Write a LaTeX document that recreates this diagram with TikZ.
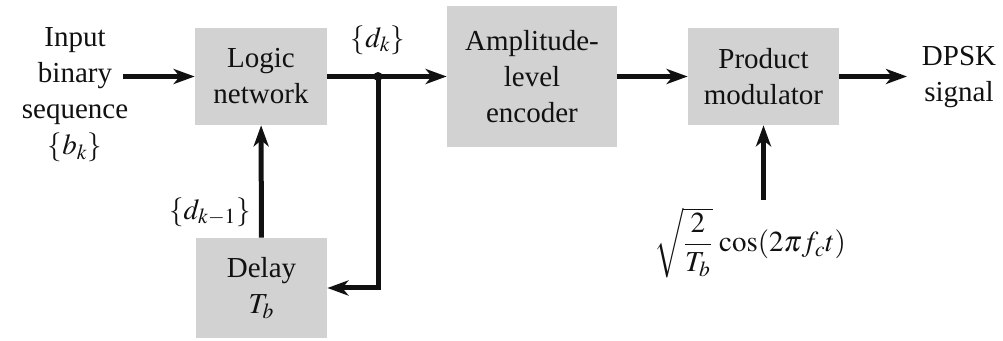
\documentclass[tikz,border=0pt]{standalone}
\usepackage{amsmath}
\usepackage{mathptmx}
\usepackage[no-math]{fontspec}
\setmainfont{Liberation Serif}
\newfontfamily\diagfont{Liberation Serif}
\usetikzlibrary{arrows.meta,positioning}
\definecolor{boxc}{HTML}{D2D2D2}
\definecolor{linec}{HTML}{111111}

\begin{document}
\begin{tikzpicture}[font=\diagfont\fontsize{16.5}{20.5}\selectfont, >={Stealth[length=4.2mm,width=3mm,inset=1.2mm]}]
\useasboundingbox (0,0) rectangle (20.06,-6.82);
\fill[white] (0,0) rectangle (20.06,-6.82);
\tikzset{block/.style={fill=boxc, draw=none, align=center, inner sep=0pt, text=linec},
  sig/.style={->, line width=1mm, linec},
  lbl/.style={align=center, text=linec, inner sep=0pt}}
% blocks
\node[block,minimum width=2.64cm,minimum height=1.94cm] (logic) at (5.22,-1.53) {Logic\\network};
\node[block,minimum width=2.62cm,minimum height=2.0cm] (delay) at (5.23,-5.76) {Delay\\$T_b$};
\node[block,minimum width=3.4cm,minimum height=2.82cm] (amp) at (10.64,-1.53) {Amplitude-\\level\\encoder};
\node[block,minimum width=3.02cm,minimum height=1.94cm] (prod) at (15.27,-1.53) {Product\\modulator};
% texts
\node[lbl] (inp) at (1.5,-1.9) {Input\\binary\\sequence\\$\{b_k\}$};
\node[lbl] (out) at (19.18,-1.54) {DPSK\\signal};
\node[lbl] (dk) at (7.56,-0.8) {$\{d_k\}$};
\node[lbl] (dk1) at (4.2,-4.24) {$\{d_{k-1}\}$};
\node[lbl] (carr) at (15.0,-4.86) {$\sqrt{\dfrac{2}{T_b}}\,\cos(2\pi f_c t)$};
\coordinate (inpend) at (2.46,-1.53);
\coordinate (outend) at (18.14,-1.53);
\coordinate (carrtop) at (15.27,-4.0);
\coordinate (junc) at (7.56,-1.53);
\coordinate (corner) at (7.56,-5.76);
% connectors
\draw[sig] (inpend)--(logic.west);
\draw[sig] (logic.east)--(amp.west);
\foreach \a/\b in {amp/prod,delay/logic}{\draw[sig] (\a)--(\b);}
\draw[sig] (prod.east)--(outend);
\draw[sig] (carrtop)--(prod.south);
\draw[sig] (junc)--(corner)--(delay.east);
\fill[linec] (junc) circle (0.09);
\end{tikzpicture}
\end{document}
